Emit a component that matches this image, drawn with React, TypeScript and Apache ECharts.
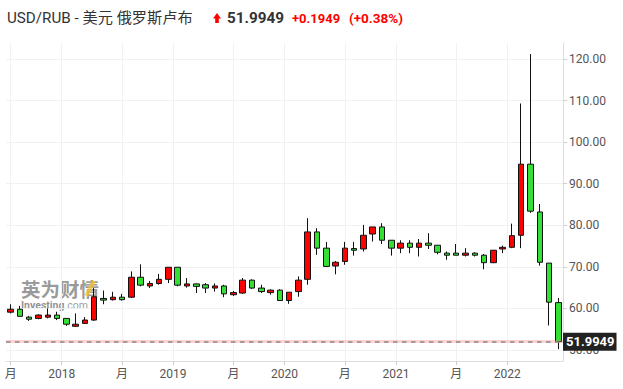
import React, { useEffect, useRef } from "react";
import * as echarts from "echarts";

const months = [
  "2017-07", "2017-08", "2017-09", "2017-10", "2017-11", "2017-12",
  "2018-01", "2018-02", "2018-03", "2018-04", "2018-05", "2018-06",
  "2018-07", "2018-08", "2018-09", "2018-10", "2018-11", "2018-12",
  "2019-01", "2019-02", "2019-03", "2019-04", "2019-05", "2019-06",
  "2019-07", "2019-08", "2019-09", "2019-10", "2019-11", "2019-12",
  "2020-01", "2020-02", "2020-03", "2020-04", "2020-05", "2020-06",
  "2020-07", "2020-08", "2020-09", "2020-10", "2020-11", "2020-12",
  "2021-01", "2021-02", "2021-03", "2021-04", "2021-05", "2021-06",
  "2021-07", "2021-08", "2021-09", "2021-10", "2021-11", "2021-12",
  "2022-01", "2022-02", "2022-03", "2022-04", "2022-05", "2022-06",
];

const opens = [
  59.1, 59.8, 57.9, 57.6, 57.9, 58.4, 57.6, 55.7, 56.4, 57.2,
  62.4, 62.1, 62.7, 62.7, 67.5, 65.4, 66.0, 67.0, 69.9, 65.4,
  65.9, 65.7, 64.9, 65.4, 63.3, 63.7, 66.8, 64.9, 63.8, 64.4,
  61.9, 64.05, 67.0, 78.4, 74.5, 70.2, 71.3, 74.4, 74.3, 77.9,
  79.6, 76.4, 74.5, 75.7, 74.7, 75.7, 75.2, 73.3, 73.3, 72.8,
  73.3, 72.8, 71.0, 74.3, 74.7, 77.6, 94.7, 83.2, 70.9, 61.4,
];
const closes = [
  59.8, 58.1, 57.4, 58.4, 58.4, 57.6, 56.2, 56.2, 57.2, 62.8,
  62.0, 62.7, 62.1, 67.5, 65.6, 66.0, 67.0, 69.9, 65.6, 65.9,
  65.3, 64.9, 65.4, 63.5, 63.8, 66.8, 64.9, 64.05, 64.4, 61.9,
  63.9, 66.8, 78.4, 74.5, 70.1, 71.1, 74.5, 74.0, 77.6, 79.6,
  76.4, 74.5, 75.7, 74.7, 75.7, 75.2, 73.5, 72.8, 72.8, 73.3,
  72.8, 71.0, 74.0, 74.7, 77.5, 94.7, 83.4, 71.1, 61.5, 51.9949,
];
const lows = [
  58.8, 58.1, 57.0, 57.4, 57.6, 57.2, 55.8, 55.6, 56.3, 57.0,
  61.0, 61.9, 61.9, 62.5, 65.3, 64.9, 65.7, 66.1, 65.3, 65.0,
  63.7, 63.7, 64.05, 62.7, 63.0, 63.5, 64.7, 63.7, 63.3, 61.9,
  61.1, 62.8, 65.7, 72.9, 70.0, 68.2, 70.5, 72.7, 73.7, 76.1,
  75.5, 72.7, 73.3, 73.3, 72.5, 74.3, 73.0, 71.7, 72.8, 72.5,
  72.5, 69.4, 70.9, 73.3, 74.5, 74.5, 83.0, 70.3, 55.9, 50.2,
];
const highs = [
  61.0, 60.6, 58.2, 58.6, 60.0, 59.2, 57.6, 58.8, 57.9, 64.9,
  64.3, 64.0, 63.5, 68.9, 70.6, 66.6, 68.3, 69.9, 69.9, 67.3,
  66.0, 66.1, 66.0, 65.7, 64.2, 67.3, 67.0, 65.7, 64.6, 64.6,
  63.9, 67.7, 81.7, 79.3, 76.0, 71.4, 76.0, 76.0, 80.1, 79.6,
  80.5, 76.4, 76.4, 76.4, 76.7, 78.1, 75.2, 73.7, 75.5, 74.5,
  73.5, 73.1, 74.0, 75.1, 80.4, 109.3, 121.2, 85.1, 70.9, 62.5,
];

const tickPositions = [0, 5.5, 12, 17.5, 24, 29.5, 36, 41.5, 48, 53.5];
const tickLabels = ["月", "2018", "月", "2019", "月", "2020", "月", "2021", "月", "2022"];
const yTicks = [50, 60, 70, 80, 90, 100, 110, 120];
const lastPrice = 51.9949;
const change = "+0.1949";
const changePct = "(+0.38%)";
const titleText = "USD/RUB - 美元 俄罗斯卢布";

const FONT = 'Roboto, "Noto Sans CJK SC", sans-serif';

export default function App() {
  const ref = useRef<HTMLDivElement>(null);

  useEffect(() => {
    if (!ref.current) return;
    const chart = echarts.init(ref.current, undefined, { renderer: "svg" });

    const labelFor = (v: number) => {
      for (let i = 0; i < tickPositions.length; i++) {
        if (Math.abs(tickPositions[i] - v) < 0.01) return tickLabels[i];
      }
      return "";
    };

    const option: any = {
      animation: false,
      backgroundColor: "#fff",
      grid: { left: 6, right: 60, top: 43, bottom: 28, containLabel: false },
      xAxis: [
        {
          type: "category",
          data: months,
          boundaryGap: true,
          show: false,
        },
        {
          type: "value",
          min: -0.5,
          max: 59.5,
          position: "bottom",
          axisLine: { show: true, onZero: false, lineStyle: { color: "#dedede", width: 1 } },
          axisTick: { show: true, length: 4, customValues: tickPositions, lineStyle: { color: "#cfcfcf" } },
          axisLabel: {
            customValues: tickPositions,
            formatter: (v: number) => labelFor(v),
            color: "#555",
            fontSize: 12,
            fontFamily: FONT,
            margin: 7,
          },
          splitLine: { show: true, lineStyle: { color: "#f1f1f1", width: 1 } },
        },
      ],
      yAxis: {
        type: "value",
        position: "right",
        min: 47.35,
        max: 123.85,
        axisLine: { show: true, onZero: false, lineStyle: { color: "#dedede", width: 1 } },
        axisTick: { show: true, length: 4, customValues: yTicks, lineStyle: { color: "#cfcfcf" } },
        axisLabel: {
          customValues: yTicks,
          formatter: (v: number) => v.toFixed(2),
          color: "#555",
          fontSize: 12,
          fontFamily: FONT,
          margin: 6,
        },
        splitLine: { show: true, lineStyle: { color: "#f1f1f1", width: 1 } },
      },
      graphic: [
        {
          type: "text",
          x: 7,
          y: 17.5,
          z: 10,
          style: {
            text: titleText,
            fill: "#333",
            fontSize: 15.2,
            fontFamily: FONT,
            textVerticalAlign: "middle",
          },
        },
        {
          type: "polygon",
          z: 10,
          shape: {
            points: [
              [217, 13],
              [221, 18.5],
              [218.8, 18.5],
              [218.8, 23],
              [215.2, 23],
              [215.2, 18.5],
              [213, 18.5],
            ],
          },
          style: { fill: "#f00" },
        },
        {
          type: "text",
          x: 227,
          y: 17.5,
          z: 10,
          style: {
            text: lastPrice.toFixed(4),
            fill: "#333",
            fontSize: 15.3,
            fontWeight: "bold",
            fontFamily: FONT,
            textVerticalAlign: "middle",
          },
        },
        {
          type: "text",
          x: 292,
          y: 18,
          z: 10,
          style: {
            text: change,
            fill: "#f00",
            fontSize: 13,
            fontWeight: "bold",
            fontFamily: FONT,
            textVerticalAlign: "middle",
          },
        },
        {
          type: "text",
          x: 349,
          y: 18,
          z: 10,
          style: {
            text: changePct,
            fill: "#f00",
            fontSize: 13.5,
            fontWeight: "bold",
            fontFamily: FONT,
            textVerticalAlign: "middle",
          },
        },
        {
          type: "text",
          x: 21,
          y: 278,
          z: 0,
          style: {
            text: "{a|英为财情}\n{b|Investing}{c|.com}",
            textVerticalAlign: "top",
            rich: {
              a: {
                fill: "rgba(85,85,85,0.6)",
                fontSize: 19.5,
                fontWeight: "bold",
                fontFamily: '"Noto Sans CJK SC", sans-serif',
                lineHeight: 21,
              },
              b: {
                fill: "rgba(85,85,85,0.65)",
                fontSize: 10.5,
                fontWeight: "bold",
                fontFamily: FONT,
                lineHeight: 12,
              },
              c: {
                fill: "rgba(85,85,85,0.6)",
                fontSize: 10.5,
                fontFamily: FONT,
                lineHeight: 12,
              },
            },
          },
        },
        {
          type: "line",
          z: 0,
          shape: { x1: 86, y1: 296, x2: 94, y2: 281 },
          style: { stroke: "rgba(255,196,40,0.7)", lineWidth: 4 },
        },
      ],
      series: [
        {
          type: "candlestick",
          xAxisIndex: 0,
          yAxisIndex: 0,
          barWidth: 6,
          data: months.map((_, i) => [opens[i], closes[i], lows[i], highs[i]]),
          itemStyle: {
            color: "#ff0000",
            color0: "#33e033",
            borderColor: "#111",
            borderColor0: "#111",
            borderWidth: 1,
          },
          markLine: {
            silent: true,
            symbol: ["none", "none"],
            animation: false,
            data: [
              {
                yAxis: lastPrice,
                lineStyle: { color: "rgba(255,110,110,0.3)", width: 3, type: "solid" },
                label: { show: false },
              },
              {
                yAxis: lastPrice,
                lineStyle: { color: "#8a8a8a", width: 1.5, type: [4.5, 4.5] },
                label: {
                  show: true,
                  position: "end",
                  distance: 0,
                  formatter: lastPrice.toFixed(4),
                  backgroundColor: "#222",
                  color: "#fff",
                  fontWeight: "bold",
                  fontSize: 13,
                  fontFamily: FONT,
                  padding: [3, 2, 2, 3],
                },
              },
            ],
          },
        },
      ],
    };

    chart.setOption(option);
    return () => chart.dispose();
  }, []);

  return (
    <div
      ref={ref}
      style={{ position: "absolute", left: 0, top: 0, width: 623, height: 389, background: "#fff" }}
    />
  );
}
